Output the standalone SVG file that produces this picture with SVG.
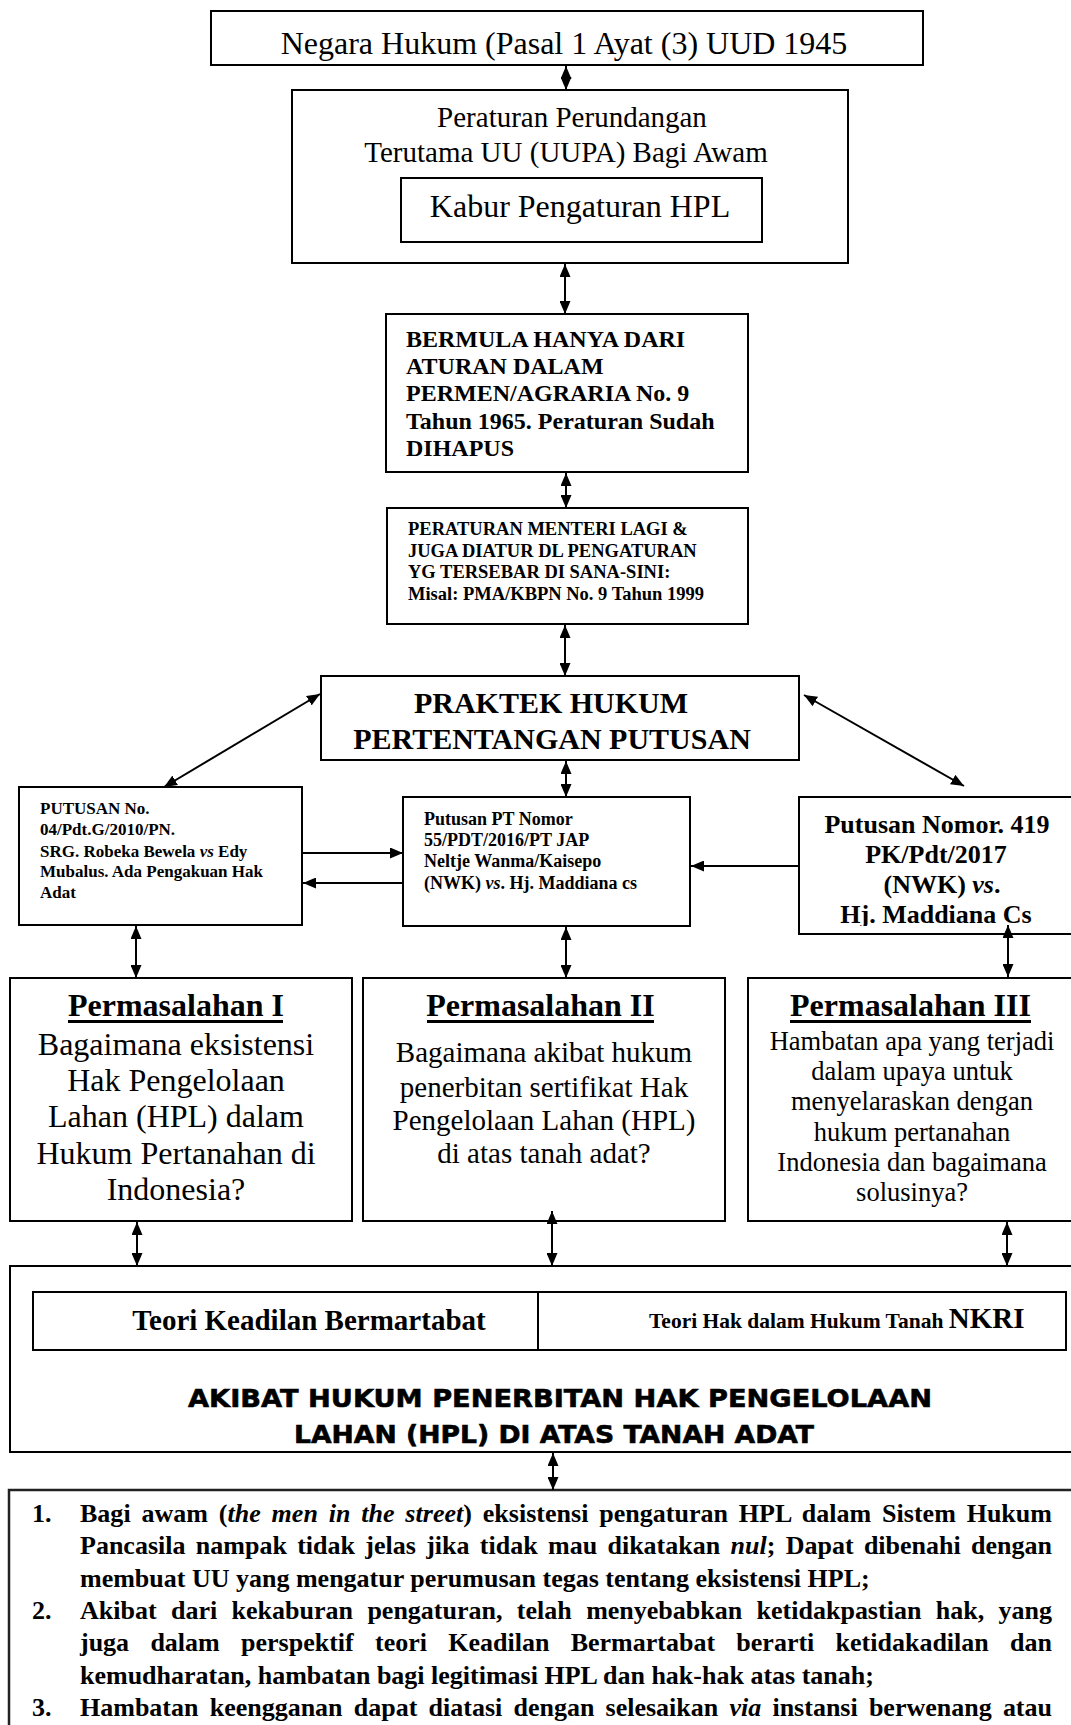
<svg xmlns="http://www.w3.org/2000/svg" width="1071" height="1725" viewBox="0 0 1071 1725">
<style>
.box{fill:#fff;stroke:#000;stroke-width:2}
.c{stroke:#000;stroke-width:2;fill:none}
.s{font-family:"Liberation Serif","Times New Roman",serif;fill:#000}
.b{font-weight:bold}
.m{text-anchor:middle}
.i{font-style:italic}
.ul{stroke:#000;stroke-width:3}
.k{font-family:"DejaVu Sans","Liberation Sans",sans-serif;font-weight:bold;fill:#000;stroke:#000;stroke-width:0.6}
</style>
<defs>
<marker id="ah" viewBox="0 0 13 11" refX="13" refY="5.5" markerWidth="13" markerHeight="11" markerUnits="userSpaceOnUse" orient="auto-start-reverse"><path d="M0,0 L13,5.5 L0,11 z" fill="#000"/></marker>
<clipPath id="clipR"><rect x="800" y="797" width="300" height="129"/></clipPath>
</defs>
<rect width="1071" height="1725" fill="#fff"/>

<g id="negara-hukum">
<rect class="box" x="211" y="11" width="712" height="54"/>
<text class="s m" x="564" y="54" font-size="32">Negara Hukum (Pasal 1 Ayat (3) UUD 1945</text>
</g>

<g id="peraturan-perundangan">
<rect class="box" x="292" y="90" width="556" height="173"/>
<text class="s m" x="572" y="127" font-size="29">Peraturan Perundangan</text>
<text class="s m" x="566" y="162" font-size="29">Terutama UU (UUPA) Bagi Awam</text>
</g>

<g id="kabur">
<rect class="box" x="401" y="178" width="361" height="64"/>
<text class="s m" x="580" y="217" font-size="32">Kabur Pengaturan HPL</text>
</g>

<g id="bermula">
<rect class="box" x="386" y="314" width="362" height="158"/>
<text class="s b" x="406" y="347" font-size="24">BERMULA HANYA DARI</text>
<text class="s b" x="406" y="374" font-size="24">ATURAN DALAM</text>
<text class="s b" x="406" y="401" font-size="24">PERMEN/AGRARIA No. 9</text>
<text class="s b" x="406" y="429" font-size="24">Tahun 1965. Peraturan Sudah</text>
<text class="s b" x="406" y="456" font-size="24">DIHAPUS</text>
</g>

<g id="peraturan-menteri">
<rect class="box" x="387" y="508" width="361" height="116"/>
<text class="s b" x="408" y="535" font-size="18.5">PERATURAN MENTERI LAGI &amp;</text>
<text class="s b" x="408" y="556.5" font-size="18.5">JUGA DIATUR DL PENGATURAN</text>
<text class="s b" x="408" y="578" font-size="18.5">YG TERSEBAR DI SANA-SINI:</text>
<text class="s b" x="408" y="599.5" font-size="18.5">Misal: PMA/KBPN No. 9 Tahun 1999</text>
</g>

<g id="praktek-hukum">
<rect class="box" x="321" y="676" width="478" height="84"/>
<text class="s b m" x="551" y="713" font-size="30">PRAKTEK HUKUM</text>
<text class="s b m" x="552" y="749" font-size="30">PERTENTANGAN PUTUSAN</text>
</g>

<g id="putusan-pn">
<rect class="box" x="19" y="787" width="283" height="138"/>
<text class="s b" x="40" y="814" font-size="17">PUTUSAN No.</text>
<text class="s b" x="40" y="835" font-size="17">04/Pdt.G/2010/PN.</text>
<text class="s b" x="40" y="857" font-size="17">SRG. Robeka Bewela <tspan class="i">vs</tspan> Edy</text>
<text class="s b" x="40" y="877" font-size="17">Mubalus. Ada Pengakuan Hak</text>
<text class="s b" x="40" y="898" font-size="17">Adat</text>
</g>

<g id="putusan-pt">
<rect class="box" x="403" y="797" width="287" height="129"/>
<text class="s b" x="424" y="825" font-size="18">Putusan PT Nomor</text>
<text class="s b" x="424" y="846" font-size="18">55/PDT/2016/PT JAP</text>
<text class="s b" x="424" y="867" font-size="18">Neltje Wanma/Kaisepo</text>
<text class="s b" x="424" y="889" font-size="18">(NWK) <tspan class="i">vs</tspan>. Hj. Maddiana cs</text>
</g>

<g id="putusan-pk">
<rect class="box" x="799" y="797" width="300" height="137"/>
<g clip-path="url(#clipR)">
<text class="s b m" x="937" y="833" font-size="26">Putusan Nomor. 419</text>
<text class="s b m" x="936" y="863" font-size="26">PK/Pdt/2017</text>
<text class="s b m" x="942" y="893" font-size="26">(NWK) <tspan class="i">vs</tspan>.</text>
<text class="s b m" x="936" y="923" font-size="26">Hj. Maddiana Cs</text>
</g>
</g>

<g id="permasalahan-1">
<rect class="box" x="10" y="978" width="342" height="243"/>
<text class="s b m" x="176" y="1016" font-size="32">Permasalahan I</text>
<line class="ul" x1="68" y1="1021.5" x2="283" y2="1021.5"/>
<text class="s m" x="176" y="1055" font-size="32">Bagaimana eksistensi</text>
<text class="s m" x="176" y="1091" font-size="32">Hak Pengelolaan</text>
<text class="s m" x="176" y="1127" font-size="32">Lahan (HPL) dalam</text>
<text class="s m" x="176" y="1164" font-size="32">Hukum Pertanahan di</text>
<text class="s m" x="176" y="1200" font-size="32">Indonesia?</text>
</g>

<g id="permasalahan-2">
<rect class="box" x="363" y="978" width="362" height="243"/>
<text class="s b m" x="540.5" y="1016" font-size="32">Permasalahan II</text>
<line class="ul" x1="427" y1="1021.5" x2="654" y2="1021.5"/>
<text class="s m" x="544" y="1062" font-size="29">Bagaimana akibat hukum</text>
<text class="s m" x="544" y="1097" font-size="29">penerbitan sertifikat Hak</text>
<text class="s m" x="544" y="1130" font-size="29">Pengelolaan Lahan (HPL)</text>
<text class="s m" x="544" y="1163" font-size="29">di atas tanah adat?</text>
</g>

<g id="permasalahan-3">
<rect class="box" x="748" y="978" width="350" height="243"/>
<text class="s b m" x="910.5" y="1016" font-size="32">Permasalahan III</text>
<line class="ul" x1="790" y1="1021.5" x2="1031" y2="1021.5"/>
<text class="s m" x="912" y="1050" font-size="26.5">Hambatan apa yang terjadi</text>
<text class="s m" x="912" y="1080" font-size="26.5">dalam upaya untuk</text>
<text class="s m" x="912" y="1110" font-size="26.5">menyelaraskan dengan</text>
<text class="s m" x="912" y="1141" font-size="26.5">hukum pertanahan</text>
<text class="s m" x="912" y="1171" font-size="26.5">Indonesia dan bagaimana</text>
<text class="s m" x="912" y="1201" font-size="26.5">solusinya?</text>
</g>

<g id="akibat-hukum">
<rect class="box" x="10" y="1266" width="1090" height="186"/>
<rect class="box" x="33" y="1292" width="1033" height="58"/>
<line class="c" x1="538" y1="1292" x2="538" y2="1350"/>
<text class="s b m" x="309" y="1330" font-size="29">Teori Keadilan Bermartabat</text>
<text class="s b" x="649" y="1328"><tspan font-size="21.5">Teori Hak dalam Hukum Tanah </tspan><tspan font-size="29">NKRI</tspan></text>
<text class="k" x="188" y="1407" font-size="25.5" textLength="744" lengthAdjust="spacingAndGlyphs">AKIBAT HUKUM PENERBITAN HAK PENGELOLAAN</text>
<text class="k" x="294" y="1443" font-size="25.5" textLength="520" lengthAdjust="spacingAndGlyphs">LAHAN (HPL) DI ATAS TANAH ADAT</text>
</g>

<g id="kesimpulan">
<rect x="9" y="1490" width="1100" height="300" fill="#fff" stroke="#222" stroke-width="2.5"/>
<text class="s b" x="32" y="1522" font-size="26">1.</text>
<text class="s b" x="80" y="1522" font-size="26" word-spacing="4.3" textLength="972" lengthAdjust="spacing">Bagi awam (<tspan class="i">the men in the street</tspan>) eksistensi pengaturan HPL dalam Sistem Hukum</text>
<text class="s b" x="80" y="1554.3" font-size="26" word-spacing="3.8" textLength="972" lengthAdjust="spacing">Pancasila nampak tidak jelas jika tidak mau dikatakan <tspan class="i">nul</tspan>; Dapat dibenahi dengan</text>
<text class="s b" x="80" y="1586.6" font-size="26">membuat UU yang mengatur perumusan tegas tentang eksistensi HPL;</text>
<text class="s b" x="32" y="1618.9" font-size="26">2.</text>
<text class="s b" x="80" y="1618.9" font-size="26" word-spacing="7.9" textLength="972" lengthAdjust="spacing">Akibat dari kekaburan pengaturan, telah menyebabkan ketidakpastian hak, yang</text>
<text class="s b" x="80" y="1651.2" font-size="26" word-spacing="14.8" textLength="972" lengthAdjust="spacing">juga dalam perspektif teori Keadilan Bermartabat berarti ketidakadilan dan</text>
<text class="s b" x="80" y="1683.5" font-size="26">kemudharatan, hambatan bagi legitimasi HPL dan hak-hak atas tanah;</text>
<text class="s b" x="32" y="1715.8" font-size="26">3.</text>
<text class="s b" x="80" y="1715.8" font-size="26" word-spacing="4.7" textLength="972" lengthAdjust="spacing">Hambatan keengganan dapat diatasi dengan selesaikan <tspan class="i">via</tspan> instansi berwenang atau</text>
<text class="s b" x="80" y="1742" font-size="26">PTUN</text>
</g>

<g id="connectors">
<line class="c" x1="566" y1="66" x2="566" y2="90" marker-start="url(#ah)" marker-end="url(#ah)"/>
<line class="c" x1="565" y1="264" x2="565" y2="314" marker-start="url(#ah)" marker-end="url(#ah)"/>
<line class="c" x1="566" y1="473" x2="566" y2="508" marker-start="url(#ah)" marker-end="url(#ah)"/>
<line class="c" x1="565" y1="625" x2="565" y2="676" marker-start="url(#ah)" marker-end="url(#ah)"/>
<line class="c" x1="320" y1="694" x2="164" y2="787" marker-start="url(#ah)" marker-end="url(#ah)"/>
<line class="c" x1="804" y1="695" x2="964" y2="786" marker-start="url(#ah)" marker-end="url(#ah)"/>
<line class="c" x1="566" y1="761" x2="566" y2="797" marker-start="url(#ah)" marker-end="url(#ah)"/>
<line class="c" x1="303" y1="853" x2="403" y2="853" marker-end="url(#ah)"/>
<line class="c" x1="402" y1="883" x2="303" y2="883" marker-end="url(#ah)"/>
<line class="c" x1="798" y1="866" x2="691" y2="866" marker-end="url(#ah)"/>
<line class="c" x1="136" y1="926" x2="136" y2="978" marker-start="url(#ah)" marker-end="url(#ah)"/>
<line class="c" x1="566" y1="927" x2="566" y2="978" marker-start="url(#ah)" marker-end="url(#ah)"/>
<line class="c" x1="1008" y1="925" x2="1008" y2="977" marker-start="url(#ah)" marker-end="url(#ah)"/>
<line class="c" x1="137" y1="1222" x2="137" y2="1266" marker-start="url(#ah)" marker-end="url(#ah)"/>
<line class="c" x1="552" y1="1211" x2="552" y2="1266" marker-start="url(#ah)" marker-end="url(#ah)"/>
<line class="c" x1="1007" y1="1222" x2="1007" y2="1266" marker-start="url(#ah)" marker-end="url(#ah)"/>
<line class="c" x1="553" y1="1453" x2="553" y2="1490" marker-start="url(#ah)" marker-end="url(#ah)"/>
</g>
</svg>
